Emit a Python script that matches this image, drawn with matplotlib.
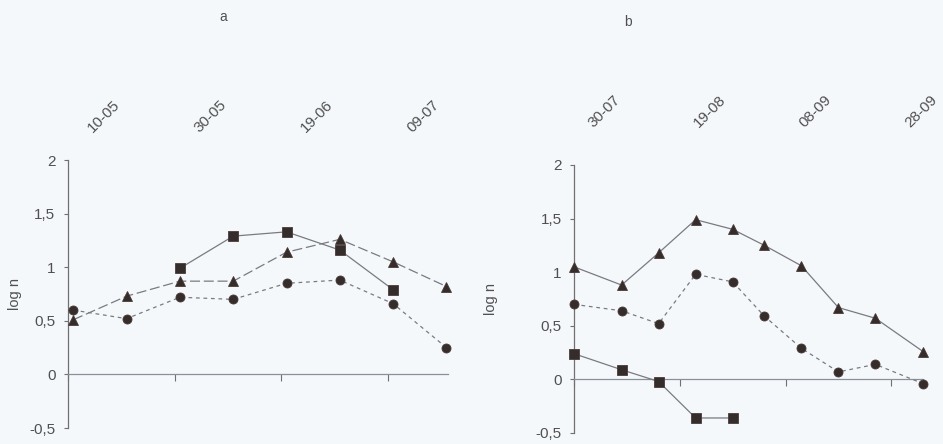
import matplotlib
matplotlib.use("Agg")
import matplotlib.pyplot as plt
import matplotlib.transforms as mtransforms

plt.rcParams['font.family'] = ['Liberation Sans', 'DejaVu Sans']

# ----- data (days after first date label, log n) ----- #
days_a = [1, 11, 21, 31, 41, 51, 61, 71]
sq_a = [None, None, 0.99, 1.29, 1.33, 1.16, 0.79, None]
tri_a = [0.51, 0.73, 0.87, 0.87, 1.14, 1.26, 1.05, 0.82]
cir_a = [0.60, 0.52, 0.72, 0.70, 0.85, 0.88, 0.66, 0.25]
ticks_a = [0, 20, 40, 60]
labels_a = ['10-05', '30-05', '19-06', '09-07']

days_b = [0, 9, 16, 23, 30, 36, 43, 50, 57, 66]
sq_b = [0.24, 0.09, -0.02, -0.36, -0.36, None, None, None, None, None]
tri_b = [1.05, 0.88, 1.18, 1.49, 1.40, 1.25, 1.06, 0.67, 0.57, 0.26]
cir_b = [0.70, 0.64, 0.52, 0.98, 0.91, 0.59, 0.29, 0.07, 0.14, -0.04]
ticks_b = [0, 20, 40, 60]
labels_b = ['30-07', '19-08', '08-09', '28-09']

yticks = [-0.5, 0, 0.5, 1, 1.5, 2]
ylabels = ['-0,5', '0', '0,5', '1', '1,5', '2']

bg = '#f5f8fb'
lc = '#7a7a82'
mc = '#352c2c'
tc = '#505050'


def clean(x, y):
    xs = [a for a, b in zip(x, y) if b is not None]
    ys = [b for b in y if b is not None]
    return xs, ys


fig = plt.figure(figsize=(9.43, 4.44), dpi=100, facecolor=bg)

panels = [
    # rect, days, series, ticks, labels, xlim, label offset (days, axes y), ylabel x, title
    ([0.0721, 0.036, 0.4030, 0.6036], days_a,
     [(sq_a, 's', (None, None)), (tri_a, '^', (8, 3)), (cir_a, 'o', (3, 3))],
     ticks_a, labels_a, (0, 71.3), (5.0, 1.093), -0.121, 'a', (223, 17)),
    ([0.6087, 0.0248, 0.3701, 0.6036], days_b,
     [(sq_b, 's', (None, None)), (tri_b, '^', (None, None)), (cir_b, 'o', (3, 3))],
     ticks_b, labels_b, (0, 66), (4.0, 1.13), -0.218, 'b', (628, 22)),
]

for rect, days, series, ticks, labels, xl, loff, ylx, title, tpos in panels:
    ax = fig.add_axes(rect)
    ax.set_facecolor(bg)
    ax.patch.set_alpha(0.0)

    for yy, mk, dash in series:
        xs, ys = clean(days, yy)
        ln, = ax.plot(xs, ys, color=lc, linewidth=0.9, marker=mk, markersize=6.5,
                      markerfacecolor=mc, markeredgecolor='#4a3a36', markeredgewidth=0.6,
                      clip_on=False, zorder=3)
        if dash[0] is not None:
            ln.set_dashes(dash)

    ax.set_xlim(xl)
    ax.set_ylim(-0.5, 2)
    ax.set_xticks(ticks)
    ax.set_xticklabels([])
    ax.set_yticks(yticks)
    ax.set_yticklabels(ylabels, fontsize=11, color=tc)

    ax.spines['top'].set_visible(False)
    ax.spines['right'].set_visible(False)
    ax.spines['bottom'].set_position(('data', 0))
    ax.spines['bottom'].set_color('#8a9098')
    ax.spines['left'].set_color('#707070')
    for axis in ['bottom', 'left']:
        ax.spines[axis].set_linewidth(0.9)
    ax.tick_params(axis='y', direction='out', length=3, width=0.8, color='#707070', pad=6)
    ax.tick_params(axis='x', direction='out', length=5, width=0.8, color='#707070')

    ax.set_ylabel('log n', fontsize=10.5, color=tc)
    ax.yaxis.set_label_coords(ylx, 0.5)

    # date labels above the plot
    trans = mtransforms.blended_transform_factory(ax.transData, ax.transAxes)
    for t, lab in zip(ticks, labels):
        ax.text(t + loff[0], loff[1], lab, transform=trans, rotation=45,
                rotation_mode='anchor', ha='left', va='bottom',
                fontsize=11, color=tc, clip_on=False)

    fig.text(tpos[0] / 943, 1 - tpos[1] / 444, title, ha='center', va='center',
             fontsize=10, color=tc)

plt.savefig('out.png', dpi=100, facecolor=bg)
plt.close()
